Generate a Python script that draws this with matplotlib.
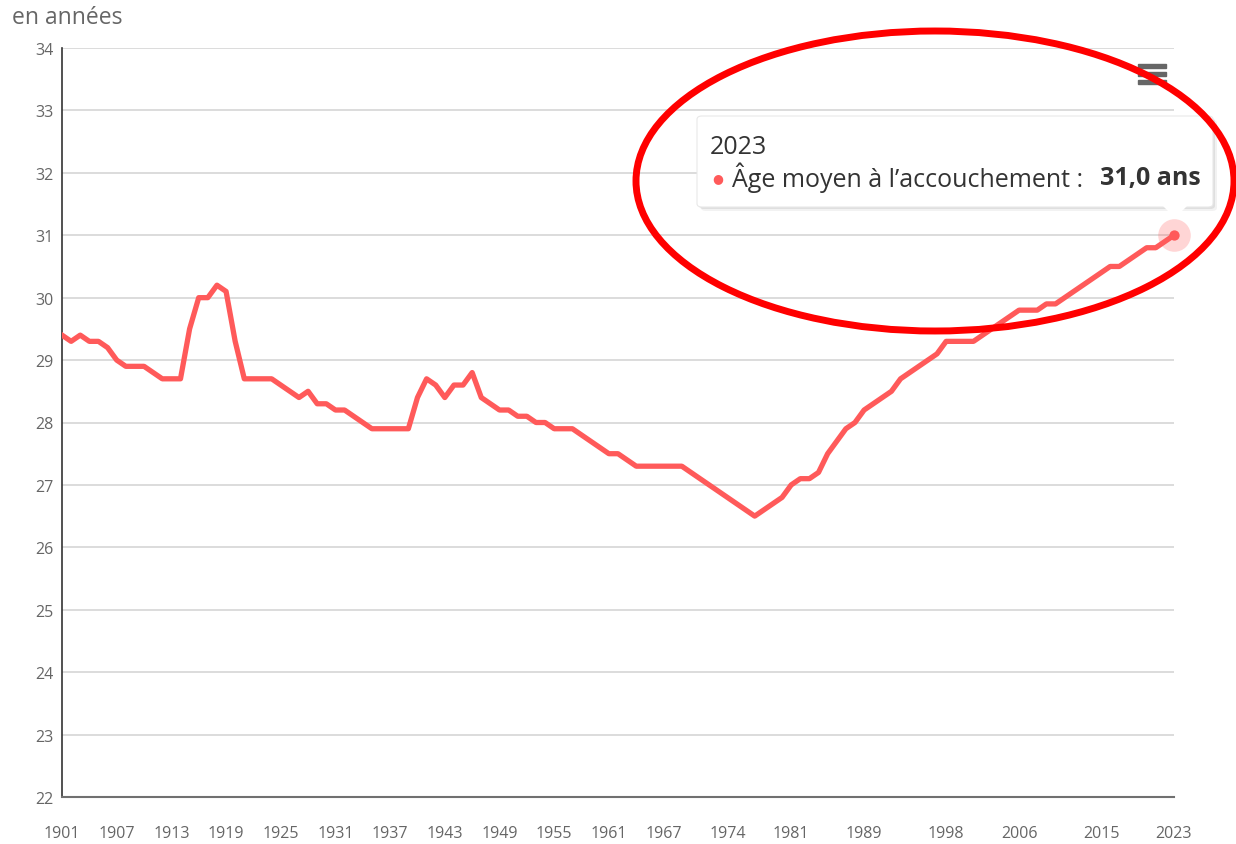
import matplotlib.pyplot as plt
from matplotlib.patches import Ellipse, FancyBboxPatch, Polygon, Rectangle

plt.rcParams['font.family'] = ['Open Sans', 'DejaVu Sans']

# age moyen a l'accouchement, 1901-2023
years = list(range(1901, 2024))
age = [29.4, 29.3, 29.4, 29.3, 29.3, 29.2, 29.0, 28.9, 28.9, 28.9,
       28.8, 28.7, 28.7, 28.7, 29.5, 30.0, 30.0, 30.2, 30.1, 29.3,
       28.7, 28.7, 28.7, 28.7, 28.6, 28.5, 28.4, 28.5, 28.3, 28.3,
       28.2, 28.2, 28.1, 28.0, 27.9, 27.9, 27.9, 27.9, 27.9, 28.4,
       28.7, 28.6, 28.4, 28.6, 28.6, 28.8, 28.4, 28.3, 28.2, 28.2,
       28.1, 28.1, 28.0, 28.0, 27.9, 27.9, 27.9, 27.8, 27.7, 27.6,
       27.5, 27.5, 27.4, 27.3, 27.3, 27.3, 27.3, 27.3, 27.3, 27.2,
       27.1, 27.0, 26.9, 26.8, 26.7, 26.6, 26.5, 26.6, 26.7, 26.8,
       27.0, 27.1, 27.1, 27.2, 27.5, 27.7, 27.9, 28.0, 28.2, 28.3,
       28.4, 28.5, 28.7, 28.8, 28.9, 29.0, 29.1, 29.3, 29.3, 29.3,
       29.3, 29.4, 29.5, 29.6, 29.7, 29.8, 29.8, 29.8, 29.9, 29.9,
       30.0, 30.1, 30.2, 30.3, 30.4, 30.5, 30.5, 30.6, 30.7, 30.8,
       30.8, 30.9, 31.0]
xticks = [1901, 1907, 1913, 1919, 1925, 1931, 1937, 1943, 1949, 1955, 1961,
          1967, 1974, 1981, 1989, 1998, 2006, 2015, 2023]
yticks = list(range(22, 35))

red = '#ff5a5a'
grey = '#666666'

fig = plt.figure(figsize=(12.36, 8.45), dpi=100)
ax = fig.add_axes([62 / 1236, 47 / 845, 1112 / 1236, 749 / 845])

ax.plot(years, age, color=red, lw=3.8, solid_joinstyle='round', zorder=3)
# survol du dernier point
ax.scatter([years[-1]], [age[-1]], s=550, color=red, alpha=0.25, lw=0, zorder=4, clip_on=False)
ax.scatter([years[-1]], [age[-1]], s=55, color=red, lw=0, zorder=5, clip_on=False)

ax.set_xlim(1901, 2023)
ax.set_ylim(22, 34)
ax.set_xticks(xticks)
ax.set_yticks(yticks)
ax.tick_params(axis='both', length=0, labelsize=11.5, labelcolor=grey)
ax.tick_params(axis='x', pad=20)
ax.tick_params(axis='y', pad=6)
ax.grid(axis='y', color='#d6d6d6', lw=1.2)
ax.set_axisbelow(True)
for s in ['top', 'right']:
    ax.spines[s].set_visible(False)
ax.spines['left'].set_color('#333333')
ax.spines['bottom'].set_color('#707070')
ax.spines['left'].set_linewidth(1.2)
ax.spines['bottom'].set_linewidth(1.5)

fig.text(12 / 1236, 1 - 18 / 845, 'en années', fontsize=16.5, color=grey, va='center')

# menu
for yy in [67, 75, 83]:
    fig.patches.append(Rectangle((1138 / 1236, 1 - (yy + 2) / 845), 28 / 1236, 4 / 845,
                                 transform=fig.transFigure, color=grey))

# infobulle
def fx(px):
    return px / 1236

def fy(py):
    return 1 - py / 845

for off, a in [(4, 0.05), (2, 0.08)]:
    fig.patches.append(FancyBboxPatch((fx(697 + off), fy(208 + off)), fx(516), 91 / 845,
                                      boxstyle='round,pad=0,rounding_size=0.004',
                                      transform=fig.transFigure, fc='black', ec='none', alpha=a))
fig.patches.append(FancyBboxPatch((fx(697), fy(208)), fx(516), 91 / 845,
                                  boxstyle='round,pad=0,rounding_size=0.004',
                                  transform=fig.transFigure, fc='white', ec='#e8e8e8', lw=0.8))
fig.patches.append(Polygon([(fx(1163), fy(207)), (fx(1187), fy(207)), (fx(1175), fy(219))],
                           transform=fig.transFigure, fc='white', ec='none'))
fig.text(fx(710), fy(147), '2023', fontsize=18, color='#333333', va='center')
fig.text(fx(712), fy(179), '●', fontsize=9, color=red, va='center')
fig.text(fx(732), fy(178), 'Âge moyen à l\u2019accouchement :', fontsize=18, color='#333333', va='center')
fig.text(fx(1201), fy(178), '31,0 ans', fontsize=18, color='#333333', va='center', ha='right',
         fontweight='bold')

# ellipse rouge
fig.patches.append(Ellipse((fx(935), fy(182)), fx(598), 300 / 845, transform=fig.transFigure,
                           fill=False, ec='#ff0000', lw=5))

fig.savefig('out.png', dpi=100)
